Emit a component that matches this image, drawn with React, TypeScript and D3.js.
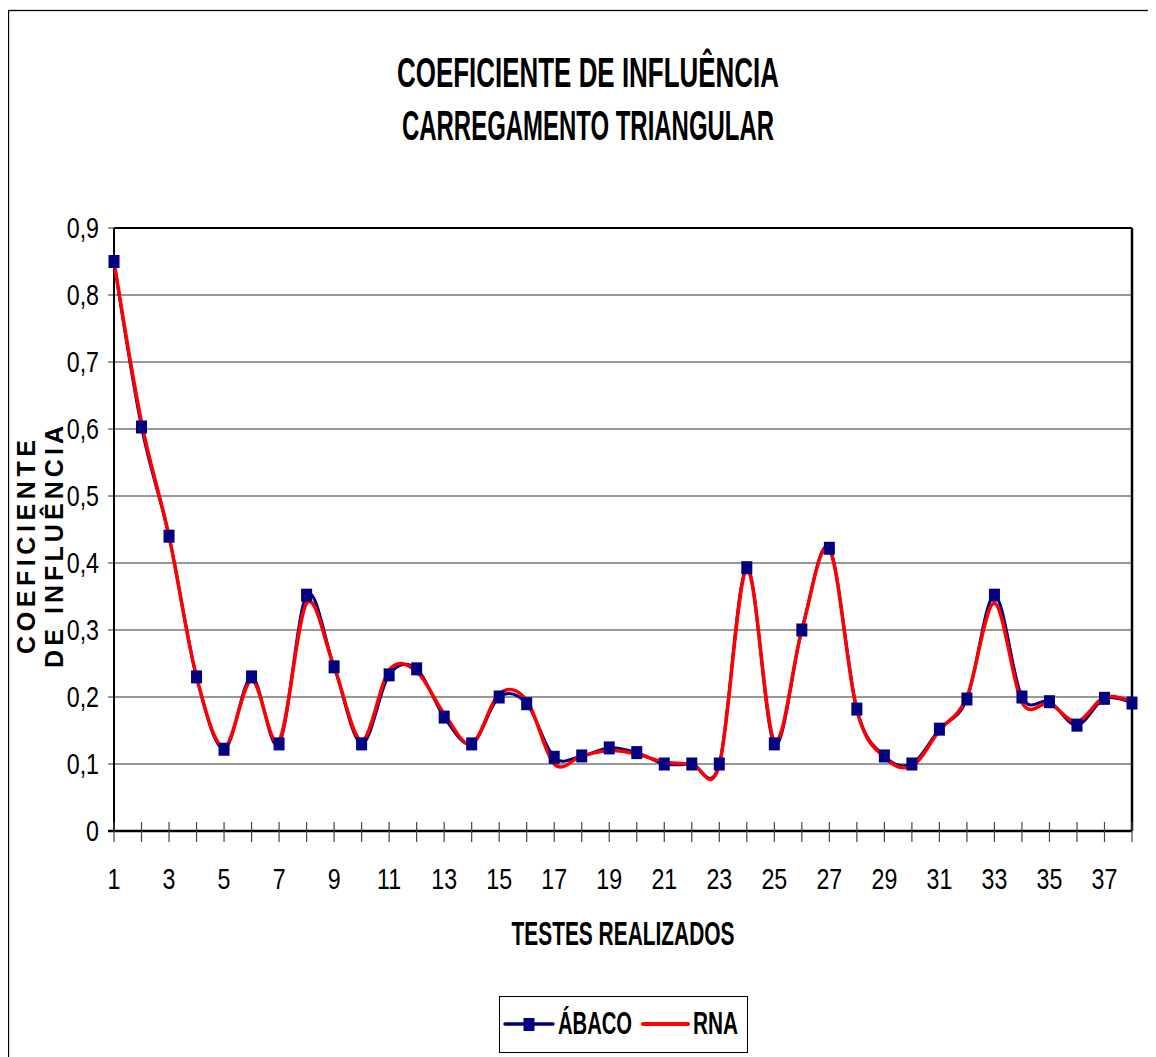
import React from "react";
import * as d3 from "d3";

const tests: number[] = d3.range(1, 39);
const abaco: number[] = [
  0.85, 0.603, 0.44, 0.23, 0.122, 0.23, 0.13, 0.352, 0.245, 0.13,
  0.233, 0.242, 0.17, 0.13, 0.2, 0.19, 0.11, 0.112, 0.124, 0.117,
  0.1, 0.1, 0.1, 0.393, 0.13, 0.3, 0.422, 0.182, 0.112, 0.1,
  0.152, 0.197, 0.352, 0.2, 0.193, 0.158, 0.198, 0.191,
];
const rna: number[] = [
  0.85, 0.61, 0.44, 0.23, 0.125, 0.225, 0.135, 0.34, 0.245, 0.135,
  0.24, 0.238, 0.175, 0.13, 0.205, 0.195, 0.1, 0.112, 0.12, 0.115,
  0.103, 0.1, 0.098, 0.39, 0.135, 0.3, 0.42, 0.18, 0.11, 0.097,
  0.15, 0.2, 0.34, 0.192, 0.19, 0.163, 0.2, 0.193,
];
const yTicks: number[] = [0, 0.1, 0.2, 0.3, 0.4, 0.5, 0.6, 0.7, 0.8, 0.9];
const xLabels: number[] = d3.range(1, 38, 2);
const titleLines: string[] = ["COEFICIENTE DE INFLUÊNCIA", "CARREGAMENTO TRIANGULAR"];
const yTitle: string[] = ["COEFICIENTE", "DE INFLUÊNCIA"];
const xTitle = "TESTES REALIZADOS";
const seriesNames: string[] = ["ÁBACO", "RNA"];

const SANS = "'Liberation Sans', Arial, sans-serif";

function NText(props: { x: number; y: number; anchor?: string; size: number; bold?: boolean; sx?: number; children: React.ReactNode }) {
  const { x, y, anchor = "start", size, bold, sx = 0.8, children } = props;
  return (
    <text transform={`translate(${x},${y}) scale(${sx},1)`} textAnchor={anchor} fontFamily={SANS}
      fontWeight={bold ? "bold" : "normal"} fontSize={size}>{children}</text>
  );
}

export default function App() {
  const left = 114, right = 1132, top = 228, bottom = 831;
  const x = d3.scaleLinear().domain([1, 38]).range([left, right]);
  const y = d3.scaleLinear().domain([0, 0.9]).range([bottom, top]);
  const line = d3
    .line<number>()
    .x((_, i) => x(tests[i]))
    .y((d) => y(d))
    .curve(d3.curveCardinal.tension(0));
  const fmt = (v: number) => (v === 0 ? "0" : d3.format(".1f")(v).replace(".", ","));

  return (
    <svg width={1148} height={1049} style={{ display: "block" }}>
      <g transform="translate(-8,-8)">
        <rect x={0} y={0} width={1200} height={1100} fill="#fff" />
        <rect x={8.5} y={10.5} width={1200} height={1200} fill="none" stroke="#000" strokeWidth={1.3} />
        {titleLines.map((t, i) => (
          <text key={t} x={588} y={87 + i * 53} textAnchor="middle" fontFamily={SANS}
            fontWeight="bold" fontSize={43} textLength={i === 0 ? 382 : 372} lengthAdjust="spacingAndGlyphs">{t}</text>
        ))}
        {/* grid */}
        {yTicks.filter((t) => t > 0).map((t) => (
          <line key={"g" + t} x1={left - 6} x2={right} y1={y(t)} y2={y(t)} stroke="#333" strokeWidth={1} />
        ))}
        {/* y tick labels */}
        {yTicks.map((t) => (
          <NText key={"yl" + t} x={99} y={y(t) + 10} anchor="end" size={29} sx={0.8}>{fmt(t)}</NText>
        ))}
        {/* plot frame */}
        <line x1={left} x2={right} y1={top} y2={top} stroke="#000" strokeWidth={2} />
        <line x1={right} x2={right} y1={top} y2={bottom} stroke="#000" strokeWidth={2.5} />
        <line x1={left} x2={left} y1={top} y2={bottom} stroke="#000" strokeWidth={2} />
        <line x1={left - 6} x2={right} y1={bottom} y2={bottom} stroke="#000" strokeWidth={2.5} />
        {tests.map((t) => (
          <line key={"xt" + t} x1={x(t)} x2={x(t)} y1={bottom - 9} y2={bottom + 11} stroke="#444" strokeWidth={1.2} />
        ))}
        {xLabels.map((t) => (
          <NText key={"xl" + t} x={x(t)} y={889} anchor="middle" size={29} sx={0.8}>{t}</NText>
        ))}
        <text x={623} y={945} textAnchor="middle" fontFamily={SANS} fontWeight="bold" fontSize={33}
          textLength={223} lengthAdjust="spacingAndGlyphs">{xTitle}</text>
        {yTitle.map((t, i) => (
          <text key={t} transform={`translate(${35 + i * 28},${547}) rotate(-90)`} textAnchor="middle"
            fontFamily={SANS} fontWeight="bold" fontSize={25} textLength={i === 0 ? 214 : 242}
            lengthAdjust="spacing">{t}</text>
        ))}
        {/* series */}
        <path d={line(abaco) || ""} fill="none" stroke="#000080" strokeWidth={3} />
        <path d={line(rna) || ""} fill="none" stroke="#ff0000" strokeWidth={3.5} />
        {abaco.map((v, i) => (
          <rect key={"m" + i} x={x(tests[i]) - 5.5} y={y(v) - 6.5} width={11} height={13} fill="#000080" />
        ))}
        {/* legend */}
        <rect x={499.5} y={996.5} width={248} height={56} fill="#fff" stroke="#000" strokeWidth={1} />
        <line x1={505} x2={553} y1={1024} y2={1024} stroke="#000080" strokeWidth={3.5} strokeLinecap="round" />
        <rect x={523.5} y={1018} width={11} height={13} fill="#000080" />
        <text x={558} y={1034} fontFamily={SANS} fontWeight="bold" fontSize={32} textLength={74}
          lengthAdjust="spacingAndGlyphs">{seriesNames[0]}</text>
        <line x1={643} x2={688} y1={1024} y2={1024} stroke="#ff0000" strokeWidth={4} strokeLinecap="round" />
        <text x={693} y={1034} fontFamily={SANS} fontWeight="bold" fontSize={32} textLength={45}
          lengthAdjust="spacingAndGlyphs">{seriesNames[1]}</text>
      </g>
    </svg>
  );
}
